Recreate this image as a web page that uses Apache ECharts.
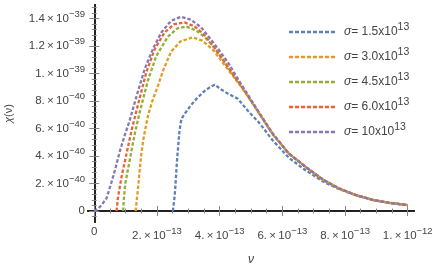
<!DOCTYPE html>
<html><head><meta charset="utf-8">
<script src="https://cdn.jsdelivr.net/npm/echarts@6/dist/echarts.min.js"></script>
<style>html,body{margin:0;padding:0;background:#fff}#c{width:436px;height:273px}</style>
</head><body><div id="c"></div>
<script>
// x in units of 1e-13, y in units of 1e-40
const xMajor = [0, 2, 4, 6, 8, 10];
const xMinor = [0.5,1,1.5,2.5,3,3.5,4.5,5,5.5,6.5,7,7.5,8.5,9,9.5];
const xLabels = ['0','2.\u2009×\u200910{s|−13}','4.\u2009×\u200910{s|−13}','6.\u2009×\u200910{s|−13}','8.\u2009×\u200910{s|−13}','1.\u2009×\u200910{s|−12}'];
const yMajor = [0, 2, 4, 6, 8, 10, 12, 14];
const yMinor = [-0.4,0.4,0.8,1.2,1.6,2.4,2.8,3.2,3.6,4.4,4.8,5.2,5.6,6.4,6.8,7.2,7.6,8.4,8.8,9.2,9.6,10.4,10.8,11.2,11.6,12.4,12.8,13.2,13.6,14.4,14.8];
const yLabels = ['0','2.\u2009×\u200910{s|−40}','4.\u2009×\u200910{s|−40}','6.\u2009×\u200910{s|−40}','8.\u2009×\u200910{s|−40}','1.\u2009×\u200910{s|−39}','1.2\u2009×\u200910{s|−39}','1.4\u2009×\u200910{s|−39}'];
const seriesNames = ['s15','s30','s45','s60','s100'];
const legendLabels = ['{i|σ}= 1.5x10{t|13}','{i|σ}= 3.0x10{t|13}','{i|σ}= 4.5x10{t|13}','{i|σ}= 6.0x10{t|13}','{i|σ}= 10x10{t|13}'];
const colors = ['#5E81B5','#E19C24','#8FB032','#EB6235','#8778B3'];

const sigma15 = [[2.51,0],[2.55,0.8],[2.58,1.52],[2.64,3.7],[2.72,5.87],[2.78,6.7],[2.89,7.1],[3.05,7.6],[3.21,8.05],[3.47,8.65],[3.65,8.95],[3.84,9.2],[4.05,8.85],[4.26,8.55],[4.58,8.17],[4.90,7.3],[5.27,6.4],[5.69,5.15],[6.22,3.85],[6.75,2.95],[7.3,2.15],[7.8,1.6],[8.35,1.14],[8.9,0.8],[9.4,0.6],[10,0.43]];
const sigma30 = [[1.32,0],[1.36,0.9],[1.40,1.76],[1.45,2.97],[1.50,4.1],[1.56,5.15],[1.63,6.0],[1.71,6.9],[1.85,8.0],[2.03,9.1],[2.19,10.2],[2.45,11.6],[2.75,12.35],[3.14,12.65],[3.45,12.4],[3.8,11.7],[4.1,10.8],[4.4,9.9],[4.7,9.0],[5.0,8.0],[5.3,6.95],[5.7,5.55],[6.2,4.2],[6.75,3.2],[7.3,2.28],[7.8,1.65],[8.35,1.16],[8.9,0.8],[9.4,0.6],[10,0.43]];
const sigma45 = [[0.92,0],[0.95,1.0],[0.99,2.0],[1.13,3.7],[1.29,5.6],[1.45,7.2],[1.71,9.5],[1.98,11.3],[2.35,12.7],[2.65,13.3],[2.93,13.44],[3.25,13.15],[3.55,12.6],[3.85,11.85],[4.15,10.9],[4.4,10.0],[4.7,9.05],[5.0,8.05],[5.3,7.0],[5.7,5.6],[6.2,4.2],[6.75,3.2],[7.3,2.28],[7.8,1.65],[8.35,1.16],[8.9,0.8],[9.4,0.6],[10,0.43]];
const sigma60 = [[0.71,0],[0.76,1.04],[0.87,2.49],[1.03,4.18],[1.19,5.87],[1.40,7.8],[1.66,10.1],[1.93,11.8],[2.24,13.0],[2.55,13.6],[2.88,13.73],[3.2,13.45],[3.5,12.85],[3.8,12.0],[4.1,11.0],[4.4,10.05],[4.7,9.1],[5.0,8.05],[5.3,7.0],[5.7,5.6],[6.2,4.2],[6.75,3.2],[7.3,2.28],[7.8,1.65],[8.35,1.16],[8.9,0.8],[9.4,0.6],[10,0.43]];
const sigma100 = [[0,0],[0.1,0.12],[0.23,0.43],[0.39,0.92],[0.55,2.1],[0.66,2.97],[0.81,4.3],[0.97,5.5],[1.13,6.6],[1.40,8.77],[1.61,10.35],[1.87,11.8],[2.14,13.0],[2.45,13.85],[2.77,14.14],[3.09,13.92],[3.41,13.37],[3.7,12.55],[4.0,11.65],[4.3,10.7],[4.6,9.55],[5.0,8.1],[5.3,7.0],[5.7,5.6],[6.2,4.2],[6.75,3.2],[7.3,2.28],[7.8,1.65],[8.35,1.16],[8.9,0.8],[9.4,0.6],[10,0.43]];
const allData = [sigma15, sigma30, sigma45, sigma60, sigma100];

const font = 'Liberation Sans, Arial, sans-serif';
const labelColor = '#444';
const rich = {
  s: {fontSize: 9.5, fontFamily: font, color: labelColor, padding: [0,0,9,0]},
  t: {fontSize: 10.5, fontFamily: font, color: labelColor, padding: [0,0,9,0]},
  i: {fontStyle: 'italic', fontFamily: font, color: labelColor, fontSize: 12}
};
const frame = {show: true, lineStyle: {color: '#222', width: 2}};
const tickStyle = {color: '#888', width: 1};

// dashed legend sample icon (8 short dashes)
let dashPath = 'path://';
for (let i = 0; i < 8; i++) { dashPath += 'M' + (i * 5.85) + ',0h4v2.4h-4z'; }

function xAx(pos, minor, labels) {
  return {
    type: 'value', position: pos, min: -0.2, max: 10.2, gridIndex: 0,
    axisLine: !minor ? frame : {show: false},
    splitLine: {show: false},
    axisTick: {show: true, inside: true, length: minor ? 2.5 : 5, lineStyle: tickStyle, customValues: minor ? xMinor : xMajor},
    axisLabel: labels ? {show: true, customValues: xMajor, margin: 4, fontSize: 11.5, fontFamily: font, color: labelColor, rich: rich,
      formatter: v => xLabels[xMajor.indexOf(Math.round(v))]} : {show: false},
    name: labels ? 'ν' : '', nameLocation: 'middle', nameGap: 32,
    nameTextStyle: {fontStyle: 'italic', fontSize: 12, fontFamily: font, color: labelColor}
  };
}
function yAx(pos, minor, labels) {
  return {
    type: 'value', position: pos, min: -0.8, max: 15, gridIndex: 0,
    axisLine: !minor ? frame : {show: false},
    splitLine: {show: false},
    axisTick: {show: true, inside: true, length: minor ? 2.5 : 5, lineStyle: tickStyle, customValues: minor ? yMinor : yMajor},
    axisLabel: labels ? {show: true, customValues: yMajor, margin: 3, fontSize: 11.5, fontFamily: font, color: labelColor, rich: rich,
      formatter: v => yLabels[yMajor.indexOf(Math.round(v))]} : {show: false},
    name: labels ? '{i|χ}(ν)' : '', nameLocation: 'middle', nameGap: 74, nameRotate: 90,
    nameTextStyle: {fontSize: 11, fontFamily: font, color: labelColor, rich: {i: {fontStyle: 'italic', fontSize: 11, fontFamily: font, color: labelColor}}}
  };
}

const chart = echarts.init(document.getElementById('c'), null, {renderer: 'canvas'});
chart.setOption({
  animation: false,
  backgroundColor: '#fff',
  grid: {left: 88, right: 22, top: 5, bottom: 51, containLabel: false, outerBoundsMode: 'none'},
  xAxis: [xAx('bottom', false, true), xAx('bottom', true, false), xAx('top', false, false), xAx('top', true, false)],
  yAxis: [yAx('left', false, true), yAx('left', true, false), yAx('right', false, false), yAx('right', true, false)],
  legend: {
    orient: 'vertical', left: 289, top: 22, itemWidth: 46, itemHeight: 12, itemGap: 9,
    padding: 0, symbolKeepAspect: true,
    data: seriesNames.map(n => ({name: n, icon: dashPath})),
    formatter: name => legendLabels[seriesNames.indexOf(name)],
    textStyle: {fontSize: 12, fontFamily: font, color: labelColor, rich: rich, padding: [0,0,0,4]}
  },
  series: seriesNames.map((n, k) => ({
    name: n, type: 'line', data: allData[k], xAxisIndex: 0, yAxisIndex: 0,
    symbol: 'none', smooth: false, color: colors[k],
    itemStyle: {color: colors[k]},
    lineStyle: {color: colors[k], width: 2.3, type: [3.5, 2]}
  }))
});
</script></body></html>
